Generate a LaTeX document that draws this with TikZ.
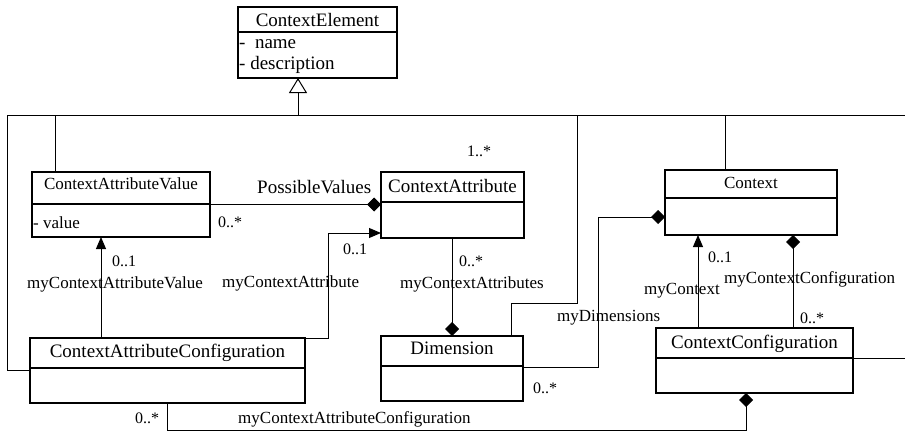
\documentclass[tikz,border=0pt]{standalone}
\usepackage{fontspec}
\setmainfont{Liberation Serif}
\usetikzlibrary{arrows.meta}
\begin{document}
\begin{tikzpicture}[x=1pt,y=-1pt,
  umlbox/.style={draw, line width=1.6pt, inner sep=0pt, outer sep=0pt},
  divider/.style={line width=1.2pt},
  link/.style={line width=1pt},
  comp/.style={link, -{Diamond[length=14pt,width=14pt]}},
  assoc/.style={link, -{Triangle[length=12pt,width=10pt]}},
  gen/.style={link, -{Triangle[open,length=15pt,width=18pt,fill=white]}},
  title/.style={anchor=base, inner sep=0pt, font=\fontsize{19}{22}\selectfont},
  smalltitle/.style={title, font=\fontsize{17}{20}\selectfont},
  attr/.style={anchor=base west, inner sep=0pt, font=\fontsize{19}{22}\selectfont},
  smallattr/.style={attr, font=\fontsize{17}{20}\selectfont},
  role/.style={anchor=base west, inner sep=0pt, font=\fontsize{17}{20}\selectfont},
  bigrole/.style={role, font=\fontsize{19}{22}\selectfont},
  mult/.style={anchor=base west, inner sep=0pt, font=\fontsize{16}{19}\selectfont}]
\useasboundingbox (0,0) rectangle (905,431);

% ---------- classes ----------
\node[umlbox, minimum width=159pt, minimum height=71pt] (CE)  at (317.5,42.5) {};
\node[umlbox, minimum width=178pt, minimum height=65pt] (CAV) at (121,204.5) {};
\node[umlbox, minimum width=143pt, minimum height=66pt] (CA)  at (452.5,205) {};
\node[umlbox, minimum width=172pt, minimum height=65pt] (Ctx) at (751,202.5) {};
\node[umlbox, minimum width=275pt, minimum height=65pt] (CAC) at (167.5,370.5) {};
\node[umlbox, minimum width=142pt, minimum height=65pt] (Dim) at (452,368.5) {};
\node[umlbox, minimum width=197pt, minimum height=65pt] (CC)  at (754.5,360.5) {};

% compartment dividers
\draw[divider] ([yshift=-25pt]CE.north west)  -- ([yshift=-25pt]CE.north east);
\draw[divider] ([yshift=-32pt]CAV.north west) -- ([yshift=-32pt]CAV.north east);
\draw[divider] ([yshift=-30pt]CA.north west)  -- ([yshift=-30pt]CA.north east);
\draw[divider] ([yshift=-28pt]Ctx.north west) -- ([yshift=-28pt]Ctx.north east);
\draw[divider] ([yshift=-30pt]CAC.north west) -- ([yshift=-30pt]CAC.north east);
\draw[divider] ([yshift=-30pt]Dim.north west) -- ([yshift=-30pt]Dim.north east);
\draw[divider] ([yshift=-30pt]CC.north west)  -- ([yshift=-30pt]CC.north east);

% class names
\node[title]      (CEname)  at ([yshift=-20pt]CE.north)  {ContextElement};
\node[smalltitle] (CAVname) at ([yshift=-17pt]CAV.north) {ContextAttributeValue};
\node[title]      (CAname)  at ([yshift=-20pt]CA.north)  {ContextAttribute};
\node[smalltitle] (Ctxname) at ([yshift=-18pt]Ctx.north) {Context};
\node[title]      (CACname) at ([yshift=-19pt]CAC.north) {ContextAttributeConfiguration};
\node[title]      (Dimname) at ([yshift=-18pt]Dim.north) {Dimension};
\node[title]      (CCname)  at ([yshift=-20pt]CC.north)  {ContextConfiguration};

% attributes
\node[attr]      (aname)  at (239,48) {-\ \ name};
\node[attr]      (adesc)  at (239,69) {- description};
\node[smallattr] (avalue) at (33,228) {- value};

% ---------- routing points ----------
\coordinate (busL)     at (7,115);
\coordinate (busR)     at (905,115);
\coordinate (genfoot)  at (298,115);
\coordinate (drop55)   at (55,115);
\coordinate (drop577)  at (577,115);
\coordinate (drop725)  at (725,115);
\coordinate (dimbend)  at (511,303);
\coordinate (colCAV)   at (101,0);
\coordinate (colCA)    at (452,0);
\coordinate (colCAC)   at (167,0);
\coordinate (colCtx)   at (698,0);
\coordinate (colCfg)   at (793,0);
\coordinate (bendCA)   at (328,233);
\coordinate (bendDim)  at (598,217);
\coordinate (bottomrun) at (746,430);

% ---------- inheritance tree ----------
\draw[link] (CAC.west) -| (busL) -- (busR);
\draw[gen]  (genfoot) -- (CE.south -| genfoot);
\draw[link] (drop55) -- (CAV.north -| drop55);
\draw[link] (drop577) |- (dimbend) -- (Dim.north -| dimbend);
\draw[link] (drop725) -- (Ctx.north -| drop725);
\draw[link] ([yshift=2.5pt]CC.east) -- ++(52,0);

% ---------- associations ----------
\draw[comp]  (CAV.east) -- (CAV.east -| CA.west);
\draw[assoc] (CAC.north east) -| (bendCA) -- (bendCA -| CA.west);
\draw[assoc] (CAC.north -| colCAV) -- (CAV.south -| colCAV);
\draw[comp]  (CA.south -| colCA) -- (Dim.north -| colCA);
\draw[comp]  ([yshift=1.5pt]Dim.east) -| (bendDim) -- (bendDim -| Ctx.west);
\draw[assoc] (CC.north -| colCtx) -- (Ctx.south -| colCtx);
\draw[comp]  (CC.north -| colCfg) -- (Ctx.south -| colCfg);
\draw[comp]  (CAC.south -| colCAC) |- (bottomrun) -- (CC.south -| bottomrun);

% ---------- role names and multiplicities ----------
\node[bigrole] (lPV) at (257,193) {PossibleValues};
\node[mult] (mPV)   at (218,227) {0..*};
\node[mult] (mCA1)  at (467,156) {1..*};
\node[mult] (mMCA)  at (343,254) {0..1};
\node[role] (lMCA)  at (222,287) {myContextAttribute};
\node[mult] (mMCAV) at (112,266) {0..1};
\node[role] (lMCAV) at (27,288)  {myContextAttributeValue};
\node[mult] (mMCAs) at (459,266) {0..*};
\node[role] (lMCAs) at (400,288) {myContextAttributes};
\node[role] (lMD)   at (557,321) {myDimensions};
\node[mult] (mMD)   at (533,393) {0..*};
\node[mult] (mMC)   at (708,262) {0..1};
\node[role] (lMC)   at (644,294) {myContext};
\node[role] (lMCC)  at (724,283) {myContextConfiguration};
\node[mult] (mMCC)  at (800,323) {0..*};
\node[mult] (mMCAC) at (135,423) {0..*};
\node[role] (lMCAC) at (238,423) {myContextAttributeConfiguration};
\end{tikzpicture}
\end{document}
